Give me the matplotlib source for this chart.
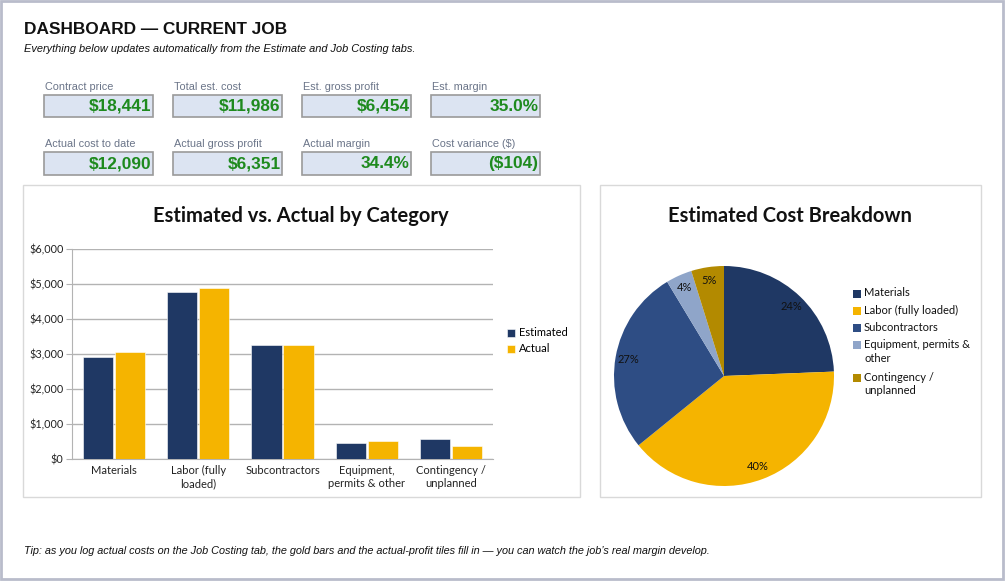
import matplotlib
matplotlib.use("Agg")
import matplotlib.pyplot as plt
from matplotlib.patches import Rectangle

W, H = 1005, 581

# ---- data ----
tile_labels = ["Contract price", "Total est. cost", "Est. gross profit", "Est. margin",
               "Actual cost to date", "Actual gross profit", "Actual margin", "Cost variance ($)"]
tile_values = ["$18,441", "$11,986", "$6,454", "35.0%",
               "$12,090", "$6,351", "34.4%", "($104)"]

categories = ["Materials", "Labor (fully\nloaded)", "Subcontractors",
              "Equipment,\npermits & other", "Contingency /\nunplanned"]
estimated = [2920, 4770, 3260, 460, 576]
actual = [3050, 4900, 3260, 510, 370]

pie_labels = ["Materials", "Labor (fully loaded)", "Subcontractors",
              "Equipment, permits &\nother", "Contingency /\nunplanned"]
pie_colors = ["#1f3864", "#f5b400", "#2e4d84", "#8fa5c9", "#b38a00"]

yticks = [0, 1000, 2000, 3000, 4000, 5000, 6000]

C_EST = "#1f3864"
C_ACT = "#f5b400"

fig = plt.figure(figsize=(W / 100, H / 100), dpi=100)
fig.patch.set_facecolor("white")


def fx(x):
    return x / W


def fy(y):
    return 1 - y / H


def rect_px(x0, y0, x1, y1, zorder=1, **kw):
    r = Rectangle((fx(x0), fy(y1)), fx(x1) - fx(x0), fy(y0) - fy(y1),
                  transform=fig.transFigure, zorder=zorder, **kw)
    fig.add_artist(r)
    return r


# outer frame
rect_px(1, 1, 1003, 579, zorder=-2, facecolor="none", edgecolor="#b9bccb", lw=2)

SANS = ["Liberation Sans", "DejaVu Sans"]
LATO = ["Lato", "DejaVu Sans"]

fig.text(fx(24), fy(30), "DASHBOARD \u2014 CURRENT JOB", fontsize=12.4, fontweight="bold",
         family=SANS, va="center", ha="left", color="#111111")
fig.text(fx(24), fy(49), "Everything below updates automatically from the Estimate and Job Costing tabs.",
         fontsize=7.9, style="italic", family=SANS, va="center", ha="left", color="#111111")

# tiles
tile_x = [44, 173, 302, 431]
rows = [(87, 95, 117), (144, 152, 175)]
for i, (lab, val) in enumerate(zip(tile_labels, tile_values)):
    r, c = divmod(i, 4)
    ly, by0, by1 = rows[r]
    x0 = tile_x[c]
    x1 = x0 + 109
    fig.text(fx(x0 + 1), fy(ly), lab, fontsize=7.8, family=SANS, color="#6a7488",
             va="center", ha="left")
    rect_px(x0, by0, x1, by1, facecolor="#dce4f2", edgecolor="#9a9a9a", lw=1.2)
    fig.text(fx(x1 - 1.5), fy((by0 + by1) / 2 + 0.5), val, fontsize=12.4, fontweight="bold",
             family=SANS, color="#1e8a1e", va="center", ha="right")

# panels
rect_px(23, 185, 580, 497, zorder=-1, facecolor="white", edgecolor="#d9d9d9", lw=1)
rect_px(600, 185, 981, 497, zorder=-1, facecolor="white", edgecolor="#d9d9d9", lw=1)

# ---- bar chart ----
ax = fig.add_axes([fx(72), fy(459), fx(493) - fx(72), fy(249) - fy(459)])
ax.set_zorder(3)
n = len(categories)
xs = list(range(n))
bw = 0.36
gap = 0.02
ax.bar([x - bw / 2 - gap / 2 for x in xs], estimated, width=bw, color=C_EST,
       edgecolor="white", linewidth=0.4, label="Estimated", zorder=3)
ax.bar([x + bw / 2 + gap / 2 for x in xs], actual, width=bw, color=C_ACT,
       edgecolor="white", linewidth=0.4, label="Actual", zorder=3)
ax.set_xlim(-0.5, n - 0.5)
ax.set_ylim(0, 6000)
ax.set_yticks(yticks)
ax.set_yticklabels([f"${v:,.0f}" for v in yticks], family=LATO, fontsize=7.8, color="#222222")
ax.set_xticks(xs)
ax.set_xticklabels(categories, family=LATO, fontsize=8, color="#222222", linespacing=1.25)
ax.grid(axis="y", color="#b3b3b3", lw=1, zorder=0)
for s in ["top", "right"]:
    ax.spines[s].set_visible(False)
ax.spines["left"].set_color("#b3b3b3")
ax.spines["bottom"].set_color("#b3b3b3")
ax.tick_params(axis="y", length=4, color="#b3b3b3", pad=2)
ax.tick_params(axis="x", length=0, pad=4)
ax.set_facecolor("none")
fig.text(fx(301), fy(216), "Estimated vs. Actual by Category", fontsize=14.5, fontweight="bold",
         family=LATO, ha="center", va="center", color="#111111")
leg = ax.legend(loc="center left", bbox_to_anchor=(fx(507), fy(341)),
                bbox_transform=fig.transFigure, frameon=False,
                prop={"family": LATO, "size": 8}, handlelength=0.7, handleheight=0.7,
                handletextpad=0.4, labelspacing=0.45, borderpad=0, borderaxespad=0)

# ---- pie chart ----
axp = fig.add_axes([fx(614), fy(486), fx(834) - fx(614), fy(266) - fy(486)])
axp.set_zorder(3)
wedges, texts, autotexts = axp.pie(estimated, colors=pie_colors, startangle=90, counterclock=False,
                                   autopct="%1.0f%%", pctdistance=0.88,
                                   wedgeprops={"linewidth": 0},
                                   textprops={"family": LATO, "fontsize": 8, "color": "#111111"})
axp.set_aspect("equal")
axp.set_xlim(-1, 1)
axp.set_ylim(-1, 1)
fig.text(fx(790), fy(216), "Estimated Cost Breakdown", fontsize=14.5, fontweight="bold",
         family=LATO, ha="center", va="center", color="#111111")

# pie legend (manual)
y = 293.5
for lab, col in zip(pie_labels, pie_colors):
    rect_px(853, y - 4, 861, y + 4, facecolor=col, edgecolor="none")
    fig.text(fx(864), fy(y - 6), lab, fontsize=8, family=LATO, va="top", ha="left",
             color="#111111", linespacing=1.3)
    nlines = lab.count("\n") + 1
    y += 17.2 + (nlines - 1) * 15.5

fig.text(fx(24), fy(551),
         "Tip: as you log actual costs on the Job Costing tab, the gold bars and the actual-profit tiles fill in \u2014 you can watch the job\u2019s real margin develop.",
         fontsize=7.85, style="italic", family=SANS, va="center", ha="left", color="#111111")

fig.savefig("out.png", dpi=100)
